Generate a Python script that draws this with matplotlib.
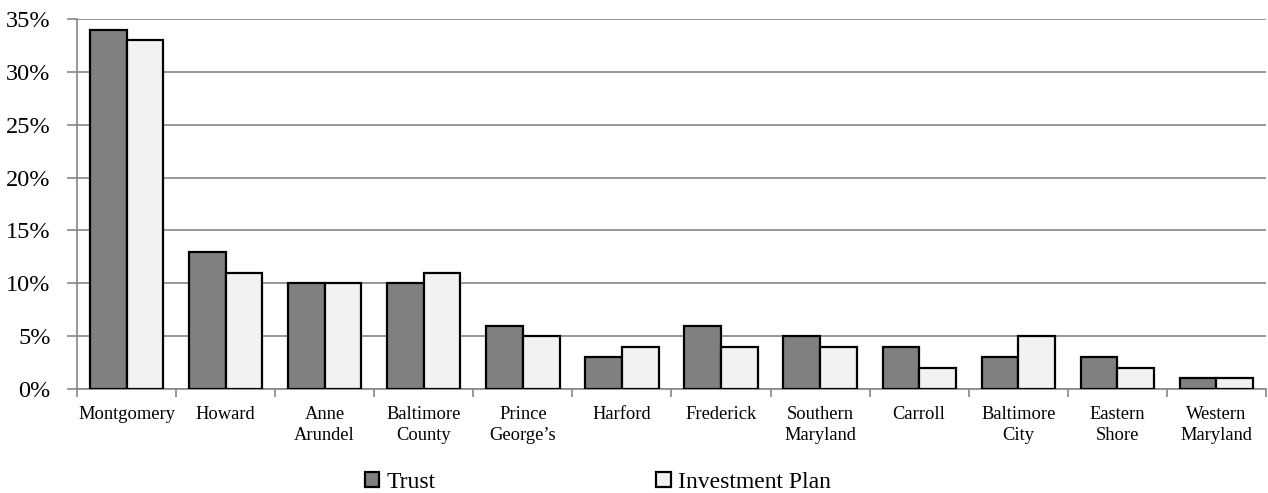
import numpy as np
import matplotlib
matplotlib.use("Agg")
import matplotlib.pyplot as plt
from matplotlib.ticker import FuncFormatter, MultipleLocator

plt.rcParams["font.family"] = ["Liberation Serif", "DejaVu Serif"]

# Share of members by region
regions = ["Montgomery", "Howard", "Anne\nArundel", "Baltimore\nCounty", "Prince\nGeorge\u2019s",
           "Harford", "Frederick", "Southern\nMaryland", "Carroll", "Baltimore\nCity",
           "Eastern\nShore", "Western\nMaryland"]
trust = [34, 13, 10, 10, 6, 3, 6, 5, 4, 3, 3, 1]
investment_plan = [33, 11, 10, 11, 5, 4, 4, 4, 2, 5, 2, 1]

grid_color = "#868686"

fig = plt.figure(figsize=(12.68, 4.93), dpi=100)
ax = fig.add_axes([0.0607, 0.211, 0.9377, 0.7505])

x = np.arange(len(regions))
w = 0.37
ax.bar(x - w / 2, trust, w, color="#808080", edgecolor="black", linewidth=1.6,
       label="Trust", zorder=3)
ax.bar(x + w / 2, investment_plan, w, color="#f2f2f2", edgecolor="black", linewidth=1.6,
       label="Investment Plan", zorder=3)

ax.set_xlim(-0.5, len(regions) - 0.5)
ax.set_ylim(0, 35)
ax.yaxis.set_major_locator(MultipleLocator(5))
ax.yaxis.set_major_formatter(FuncFormatter(lambda v, _: f"{v:.0f}%"))
ax.grid(axis="y", color=grid_color, linewidth=1.2, zorder=0)

ax.set_xticks(x)
ax.set_xticklabels(regions, fontsize=13.3, linespacing=1.36)
ax.set_xticks(np.arange(-0.5, len(regions)), minor=True)
ax.tick_params(axis="x", which="major", length=0, pad=12)
ax.tick_params(axis="x", which="minor", length=6, color=grid_color, width=1.2, direction="out")
ax.tick_params(axis="y", labelsize=17.5, length=7, color=grid_color, width=1.2, pad=12)

for side in ["top", "right"]:
    ax.spines[side].set_visible(False)
for side in ["left", "bottom"]:
    ax.spines[side].set_color(grid_color)
    ax.spines[side].set_linewidth(1.2)

fig.legend(loc="center", bbox_to_anchor=(0.4715, 0.022), ncol=2, frameon=False,
           fontsize=17, handlelength=0.62, handleheight=0.62, handletextpad=0.3,
           columnspacing=9.35, borderaxespad=0)

fig.savefig("out.png", dpi=100)
